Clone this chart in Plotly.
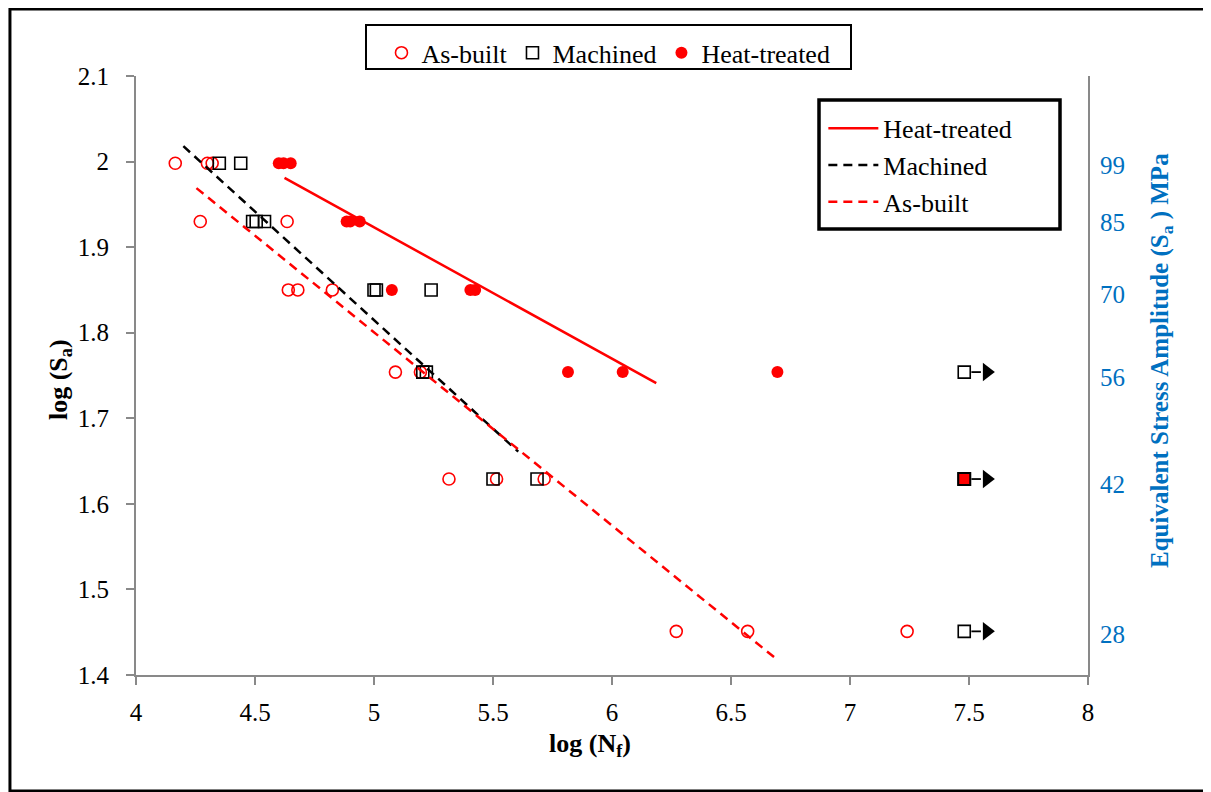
import plotly.graph_objects as go

# ---------------- data ----------------
asbuilt_logN = [4.165, 4.30, 4.32, 4.27, 4.635, 4.64, 4.68, 4.825, 5.09, 5.195, 5.315, 5.515, 5.715, 6.27, 6.57, 7.24]
asbuilt_logS = [1.998, 1.998, 1.998, 1.930, 1.930, 1.850, 1.850, 1.850, 1.754, 1.754, 1.629, 1.629, 1.629, 1.451, 1.451, 1.451]

mach_logN = [4.35, 4.44, 4.49, 4.505, 4.54, 5.00, 5.01, 5.24, 5.205, 5.22, 5.50, 5.685, 7.48, 7.48, 7.48]
mach_logS = [1.998, 1.998, 1.930, 1.930, 1.930, 1.850, 1.850, 1.850, 1.754, 1.754, 1.629, 1.629, 1.754, 1.629, 1.451]

ht_logN = [4.60, 4.62, 4.65, 4.885, 4.90, 4.94, 5.075, 5.405, 5.425, 5.815, 6.045, 6.695]
ht_logS = [1.998, 1.998, 1.998, 1.930, 1.930, 1.930, 1.850, 1.850, 1.850, 1.754, 1.754, 1.754]

ht_runout_logN = [7.48]
ht_runout_logS = [1.629]

runout_start = 7.48
runout_line_end = 7.55
runout_arrow = 7.575
runout_logS = [1.754, 1.629, 1.451]

fit_ht_x = [4.624, 6.186]
fit_ht_y = [1.981, 1.741]
fit_mach_x = [4.199, 5.606]
fit_mach_y = [2.018, 1.661]
fit_ab_x = [4.254, 6.696]
fit_ab_y = [1.969, 1.4175]

x_ticks = [4, 4.5, 5, 5.5, 6, 6.5, 7, 7.5, 8]
y_ticks = [1.4, 1.5, 1.6, 1.7, 1.8, 1.9, 2.0, 2.1]
y_ticktext = ["1.4", "1.5", "1.6", "1.7", "1.8", "1.9", "2", "2.1"]
stress_ticks = [28, 42, 56, 70, 85, 99]

RED = "#FF0000"
BLUE = "#0070C0"
GREY = "#898989"
FONT = "Liberation Serif"

fig = go.Figure()

# measured points
fig.add_trace(go.Scatter(
    x=asbuilt_logN, y=asbuilt_logS, mode="markers", name="As-built",
    marker=dict(symbol="circle-open", size=12, color=RED, line=dict(width=1.6, color=RED)),
    legend="legend"))
fig.add_trace(go.Scatter(
    x=mach_logN, y=mach_logS, mode="markers", name="Machined",
    marker=dict(symbol="square-open", size=12, color="black", line=dict(width=1.6, color="black")),
    legend="legend"))
fig.add_trace(go.Scatter(
    x=ht_logN, y=ht_logS, mode="markers", name="Heat-treated",
    marker=dict(symbol="circle", size=12, color=RED, line=dict(width=0)),
    legend="legend"))
fig.add_trace(go.Scatter(
    x=ht_runout_logN, y=ht_runout_logS, mode="markers", showlegend=False,
    marker=dict(symbol="square", size=12, color=RED, line=dict(width=2, color="black"))))

# runout arrows
for s in runout_logS:
    fig.add_trace(go.Scatter(
        x=[runout_start + 0.03, runout_line_end], y=[s, s], mode="lines",
        line=dict(color="black", width=1.8), showlegend=False, hoverinfo="skip"))
    fig.add_trace(go.Scatter(
        x=[runout_arrow], y=[s], mode="markers", showlegend=False, hoverinfo="skip",
        marker=dict(symbol="triangle-right", size=16, color="black")))

# fit lines
fig.add_trace(go.Scatter(
    x=fit_ht_x, y=fit_ht_y, mode="lines", name="Heat-treated",
    line=dict(color=RED, width=2.5), legend="legend2"))
fig.add_trace(go.Scatter(
    x=fit_mach_x, y=fit_mach_y, mode="lines", name="Machined",
    line=dict(color="black", width=2.5, dash="9px,6px"), legend="legend2"))
fig.add_trace(go.Scatter(
    x=fit_ab_x, y=fit_ab_y, mode="lines", name="As-built",
    line=dict(color=RED, width=2.5, dash="9px,6px"), legend="legend2"))

# invisible trace to anchor the secondary (stress) axis
fig.add_trace(go.Scatter(
    x=[6], y=[50], yaxis="y2", mode="markers", showlegend=False, hoverinfo="skip",
    marker=dict(opacity=0)))

fig.update_layout(
    width=1203, height=784,
    paper_bgcolor="white", plot_bgcolor="white",
    margin=dict(l=128, r=123, t=68, b=117),
    font=dict(family=FONT, size=25, color="black"),
    xaxis=dict(
        range=[4, 8], tickvals=x_ticks, ticktext=[str(v) if v != int(v) else str(int(v)) for v in x_ticks],
        showline=True, linecolor=GREY, linewidth=2, ticks="outside", tickcolor=GREY,
        ticklen=8, tickwidth=2, showgrid=False, zeroline=False, ticklabelstandoff=6,
        tickfont=dict(size=25, family=FONT, color="black")),
    yaxis=dict(
        range=[1.4, 2.1], tickvals=y_ticks, ticktext=y_ticktext,
        showline=True, linecolor=GREY, linewidth=2, ticks="outside", tickcolor=GREY,
        ticklen=8, tickwidth=2, showgrid=False, zeroline=False, ticklabelstandoff=12,
        tickfont=dict(size=25, family=FONT, color="black")),
    yaxis2=dict(
        overlaying="y", side="right", type="log", range=[1.4, 2.1],
        tickvals=stress_ticks, ticktext=[str(v) for v in stress_ticks],
        showline=True, linecolor=GREY, linewidth=2, ticks="", showgrid=False, zeroline=False,
        ticklabelstandoff=5,
        tickfont=dict(size=25, family=FONT, color=BLUE)),
    legend=dict(
        orientation="h", x=0.4963, xanchor="center", y=1.078, yanchor="top",
        borderwidth=0, bgcolor="rgba(0,0,0,0)",
        font=dict(size=26, family=FONT, color="black"), itemwidth=30),
    legend2=dict(
        orientation="v", x=0.722, xanchor="left", y=0.952, yanchor="top",
        borderwidth=0, bgcolor="rgba(0,0,0,0)",
        font=dict(size=26, family=FONT, color="black"), itemwidth=50),
    annotations=[
        dict(text="<b>log (N<sub>f</sub>)</b>", xref="paper", yref="paper",
             x=0.4769, y=-0.1169, xanchor="center", yanchor="middle", showarrow=False,
             font=dict(size=26, family=FONT, color="black")),
        dict(text="<b>log (S<sub>a</sub>)</b>", xref="paper", yref="paper", textangle=-90,
             x=-0.0798, y=0.4925, xanchor="center", yanchor="middle", showarrow=False,
             font=dict(size=26, family=FONT, color="black")),
        dict(text="<b>Equivalent Stress Amplitude (S<sub>a</sub> ) MPa</b>", xref="paper", yref="paper",
             textangle=-90, x=1.0777, y=0.5259, xanchor="center", yanchor="middle", showarrow=False,
             font=dict(size=25, family=FONT, color=BLUE)),
    ],
    shapes=[
        # outer chart border
        dict(type="rect", xref="paper", yref="paper",
             x0=-0.1324, x1=1.1271, y0=-0.1937, y1=1.1119,
             line=dict(color="black", width=3)),
        # top legend box
        dict(type="rect", xref="paper", yref="paper",
             x0=(358 - 128) / 952, x1=(843 - 128) / 952,
             y0=(667 - 61) / 599, y1=(667 - 17) / 599,
             line=dict(color="black", width=2), fillcolor="white", layer="above"),
        # inner legend box
        dict(type="rect", xref="paper", yref="paper",
             x0=(811 - 128) / 952, x1=(1052 - 128) / 952,
             y0=(667 - 221) / 599, y1=(667 - 92) / 599,
             line=dict(color="black", width=3.5), fillcolor="white", layer="above"),
    ],
    showlegend=True,
)

fig.write_html("out.html")
